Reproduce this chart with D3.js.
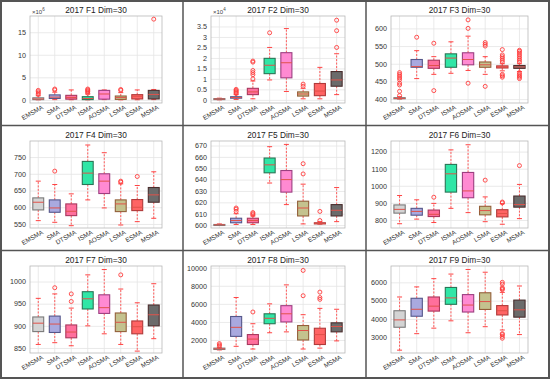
<!DOCTYPE html>
<html>
<head>
<meta charset="utf-8">
<script src="https://cdn.jsdelivr.net/npm/d3@7"></script>
<style>
  body { margin: 0; background: #fff; }
  svg { display: block; font-family: "Liberation Sans", Arial, sans-serif; }
</style>
</head>
<body>
<div id="chart"></div>
<script>
// methods on every x axis
const methods = ["EMSMA", "SMA", "DTSMA", "ISMA", "AOSMA", "LSMA", "ESMA", "MSMA"];

// each row: [lower whisker, q1, median, q3, upper whisker]
const f1Stats = [[0, 0.05, 0.2, 0.45, 0.9], [0.05, 0.3, 0.6, 1.1, 1.7], [0.02, 0.15, 0.5, 1.0, 2.2], [0, 0.05, 0.3, 0.7, 1.3],
  [0.05, 0.15, 1.3, 2.1, 2.2], [0, 0.1, 0.5, 0.85, 1.6], [0.02, 0.2, 0.8, 1.15, 2.2], [0.05, 0.2, 1.2, 2.1, 2.3]];
const f1Outliers = [[1.2, 1.5, 1.8, 2.1], [2.2, 2.4], [], [1.5, 1.8, 2.0, 2.2, 2.4], [], [2.1, 2.3], [], [17.9]];
const f1Ticks = [0, 5, 10, 15];

const f2Stats = [[0, 0.02, 0.04, 0.06, 0.08], [0.02, 0.08, 0.11, 0.15, 0.25], [0.05, 0.25, 0.38, 0.55, 0.9], [0.95, 1.25, 1.65, 1.98, 2.5],
  [0.4, 1.05, 1.77, 2.25, 3.4], [0.05, 0.18, 0.28, 0.38, 0.55], [0.05, 0.2, 0.42, 0.78, 1.55], [0.25, 0.65, 0.95, 1.35, 2.2]];
const f2Outliers = [[], [0.3, 0.35, 0.4, 0.45, 0.5], [1.0, 1.2, 1.3, 1.4, 1.8, 1.85], [3.2], [], [0.65, 0.75], [], [2.5, 3.3, 3.8]];
const f2Ticks = [0, 0.5, 1, 1.5, 2, 2.5, 3, 3.5];

const f3Stats = [[400, 401, 402, 404, 407], [458, 490, 492, 512, 537], [470, 487, 495, 510, 520], [473, 490, 516, 528, 562],
  [481, 497, 512, 531, 578], [470, 490, 497, 505, 520], [480, 488, 491, 494, 500], [478, 487, 491, 495, 500]];
const f3Outliers = [[410, 422, 440, 445, 455, 460, 465, 470, 475], [575], [424, 558], [], [445, 600, 624], [436, 550, 555, 560],
  [462, 466, 470, 505, 510, 515, 520, 525, 540], [458, 462, 466, 470, 475, 505, 510, 515, 520, 525, 530, 535, 538]];
const f3Ticks = [400, 450, 500, 550, 600];

const f4Stats = [[560, 592, 615, 628, 678], [555, 585, 598, 622, 668], [545, 575, 588, 610, 640], [622, 668, 702, 737, 786],
  [598, 641, 678, 700, 763], [547, 587, 610, 622, 670], [557, 590, 600, 623, 665], [567, 615, 637, 659, 706]];
const f4Outliers = [[], [708], [], [], [], [675, 678], [692], []];
const f4Ticks = [550, 600, 650, 700, 750];

const f5Stats = [[600, 600, 600.2, 600.5, 601], [600.5, 602, 604, 606, 610], [600.5, 602, 604, 606, 608], [637, 646, 653, 659, 669],
  [618, 629, 640, 648, 671], [601, 608, 615, 621, 636], [600.8, 601, 601.5, 602, 603], [603, 608, 613, 618, 633]];
const f5Outliers = [[], [612, 614, 615], [609, 610, 611], [], [], [645, 654], [604, 612], []];
const f5Ticks = [600, 610, 620, 630, 640, 650, 660, 670];

const f6Stats = [[778, 840, 862, 888, 943], [805, 828, 850, 868, 918], [785, 820, 833, 858, 897], [868, 963, 1070, 1125, 1210],
  [843, 930, 970, 1078, 1240], [790, 830, 855, 880, 935], [775, 818, 838, 860, 895], [808, 875, 890, 940, 1008]];
const f6Outliers = [[], [], [933], [], [], [1033], [900, 905], [1118]];
const f6Ticks = [800, 900, 1000, 1100, 1200];

const f7Stats = [[858, 887, 906, 920, 962], [862, 885, 904, 922, 972], [855, 873, 886, 902, 940], [900, 938, 961, 977, 1015],
  [882, 928, 941, 970, 1027], [858, 887, 908, 929, 983], [843, 882, 898, 911, 952], [871, 900, 925, 947, 995]];
const f7Outliers = [[], [986], [955, 972], [], [], [1015], [], []];
const f7Ticks = [850, 900, 950, 1000];

const f8Stats = [[900, 950, 1020, 1100, 1150], [1300, 2400, 3400, 4600, 6700], [1000, 1500, 2100, 2600, 3800], [2800, 3800, 4400, 4900, 6000],
  [2900, 4000, 4900, 5800, 8100], [1000, 2000, 3050, 3600, 4800], [1100, 1500, 2600, 3300, 5500], [1900, 2900, 3500, 3900, 5400]];
const f8Outliers = [[1300, 1450, 1600], [], [5100], [], [], [6900, 9700], [6500, 6700, 7300], []];
const f8Ticks = [2000, 4000, 6000, 8000, 10000];

const f9Stats = [[2300, 3550, 3950, 4450, 5200], [3200, 4150, 4530, 5130, 5750], [3500, 4430, 4700, 5200, 6200], [3900, 4800, 5150, 5720, 6450],
  [3250, 4380, 4760, 5330, 6700], [3580, 4520, 4950, 5430, 6550], [3400, 4220, 4450, 4730, 5450], [3150, 4100, 4500, 5030, 5800]];
const f9Outliers = [[], [], [], [], [], [], [2950, 3050, 3150, 3200, 5600, 5650, 5700, 5900, 6000], []];
const f9Ticks = [3000, 4000, 5000, 6000];

const panels = [
  { title: "2017 F1 Dim=30", stats: f1Stats, outliers: f1Outliers, ticks: f1Ticks, domain: [-0.7, 18.6], exp: "6" },
  { title: "2017 F2 Dim=30", stats: f2Stats, outliers: f2Outliers, ticks: f2Ticks, domain: [-0.15, 4.0], exp: "4" },
  { title: "2017 F3 Dim=30", stats: f3Stats, outliers: f3Outliers, ticks: f3Ticks, domain: [389, 635] },
  { title: "2017 F4 Dim=30", stats: f4Stats, outliers: f4Outliers, ticks: f4Ticks, domain: [538, 798] },
  { title: "2017 F5 Dim=30", stats: f5Stats, outliers: f5Outliers, ticks: f5Ticks, domain: [597.4, 674] },
  { title: "2017 F6 Dim=30", stats: f6Stats, outliers: f6Outliers, ticks: f6Ticks, domain: [753, 1262] },
  { title: "2017 F7 Dim=30", stats: f7Stats, outliers: f7Outliers, ticks: f7Ticks, domain: [838.7, 1035] },
  { title: "2017 F8 Dim=30", stats: f8Stats, outliers: f8Outliers, ticks: f8Ticks, domain: [560, 10190] },
  { title: "2017 F9 Dim=30", stats: f9Stats, outliers: f9Outliers, ticks: f9Ticks, domain: [2145, 6890] }
];

// box fill / edge colours per method
const fills = ["#d4d4d4", "#a9a9df", "#ff6f9c", "#30e6a6", "#ff8ad2", "#c4c28e", "#ff6464", "#6b6b6b"];
const edges = ["#7a7a7a", "#55578a", "#a8385e", "#2a7556", "#9c3f80", "#93603a", "#b03a3a", "#4a2e2e"];

const W = 550, H = 379;
const colX = [0, 183, 366];
const rowY = [0, 125, 250];
const plotLeft = [30, 28, 25];

const svg = d3.select("#chart").append("svg")
  .attr("width", W)
  .attr("height", H);

svg.append("rect").attr("width", W).attr("height", H).attr("fill", "#fff");

panels.forEach((p, i) => {
  const col = i % 3, row = Math.floor(i / 3);
  const left = colX[col] + plotLeft[col];
  const right = colX[col] + 162;
  const top = rowY[row] + 16;
  const bottom = rowY[row] + 103;

  const x = d3.scaleBand().domain(methods).range([left, right]);
  const y = d3.scaleLinear().domain(p.domain).range([bottom, top]);
  const g = svg.append("g");

  // y grid + labels
  const yAxis = g.append("g")
    .attr("transform", `translate(${left},0)`)
    .call(d3.axisLeft(y).tickValues(p.ticks).tickSize(-(right - left)).tickPadding(4).tickFormat(d3.format("")));
  yAxis.select(".domain").remove();
  yAxis.selectAll("line").attr("stroke", "#e4e4e4").attr("stroke-width", 0.8);
  yAxis.selectAll("text").attr("fill", "#333").style("font-size", "7.2px");

  // x grid + labels
  const xAxis = g.append("g")
    .attr("transform", `translate(0,${bottom})`)
    .call(d3.axisBottom(x).tickSize(-(bottom - top)).tickPadding(3));
  xAxis.select(".domain").remove();
  xAxis.selectAll("line").attr("stroke", "#e4e4e4").attr("stroke-width", 0.8);
  xAxis.selectAll("text")
    .attr("fill", "#333")
    .style("font-size", "6.4px")
    .attr("text-anchor", "end")
    .attr("dx", "0.3em")
    .attr("dy", "0.7em")
    .attr("transform", "rotate(-30)");

  // axes box
  g.append("rect")
    .attr("x", left).attr("y", top)
    .attr("width", right - left).attr("height", bottom - top)
    .attr("fill", "none").attr("stroke", "#b8b8b8").attr("stroke-width", 0.8);

  // title
  g.append("text")
    .attr("x", (left + right) / 2)
    .attr("y", top - 3)
    .attr("text-anchor", "middle")
    .attr("fill", "#222")
    .style("font-size", "8.3px")
    .text(p.title);

  if (p.exp) {
    const t = g.append("text")
      .attr("x", left + 2)
      .attr("y", top - 2)
      .attr("fill", "#444")
      .style("font-size", "6px")
      .text("×10");
    t.append("tspan").attr("dy", -3).style("font-size", "4.5px").text(p.exp);
  }

  const bw = x.bandwidth() * 0.66;
  const capW = 5;

  p.stats.forEach((s, k) => {
    const cx = x(methods[k]) + x.bandwidth() / 2;
    const [lo, q1, med, q3, hi] = s;
    const b = g.append("g");

    // whiskers
    b.append("line")
      .attr("x1", cx).attr("x2", cx).attr("y1", y(q3)).attr("y2", y(hi))
      .attr("stroke", "#ff5a5a").attr("stroke-width", 1).attr("stroke-dasharray", "2,1.5");
    b.append("line")
      .attr("x1", cx).attr("x2", cx).attr("y1", y(q1)).attr("y2", y(lo))
      .attr("stroke", "#ff5a5a").attr("stroke-width", 1).attr("stroke-dasharray", "2,1.5");
    [lo, hi].forEach(v => {
      b.append("line")
        .attr("x1", cx - capW / 2).attr("x2", cx + capW / 2).attr("y1", y(v)).attr("y2", y(v))
        .attr("stroke", "#ff4444").attr("stroke-width", 1);
    });

    // box
    b.append("rect")
      .attr("x", cx - bw / 2).attr("width", bw)
      .attr("y", y(q3)).attr("height", Math.max(y(q1) - y(q3), 1))
      .attr("fill", fills[k]).attr("stroke", edges[k]).attr("stroke-width", 1.1);

    // median
    b.append("line")
      .attr("x1", cx - bw / 2).attr("x2", cx + bw / 2).attr("y1", y(med)).attr("y2", y(med))
      .attr("stroke", "#e0524a").attr("stroke-width", 1);

    // outliers
    b.selectAll("circle")
      .data(p.outliers[k])
      .join("circle")
      .attr("cx", cx).attr("cy", d => y(d)).attr("r", 2)
      .attr("fill", "none").attr("stroke", "#ff3c3c").attr("stroke-width", 0.9);
  });
});

// panel frames
svg.append("rect")
  .attr("x", 1).attr("y", 1).attr("width", W - 2).attr("height", H - 2)
  .attr("fill", "none").attr("stroke", "#555").attr("stroke-width", 2);
[183, 366].forEach(v => {
  svg.append("line").attr("x1", v).attr("x2", v).attr("y1", 0).attr("y2", H)
    .attr("stroke", "#555").attr("stroke-width", 1.5);
});
[125.5, 250.5].forEach(v => {
  svg.append("line").attr("x1", 0).attr("x2", W).attr("y1", v).attr("y2", v)
    .attr("stroke", "#555").attr("stroke-width", 1.5);
});
</script>
</body>
</html>
